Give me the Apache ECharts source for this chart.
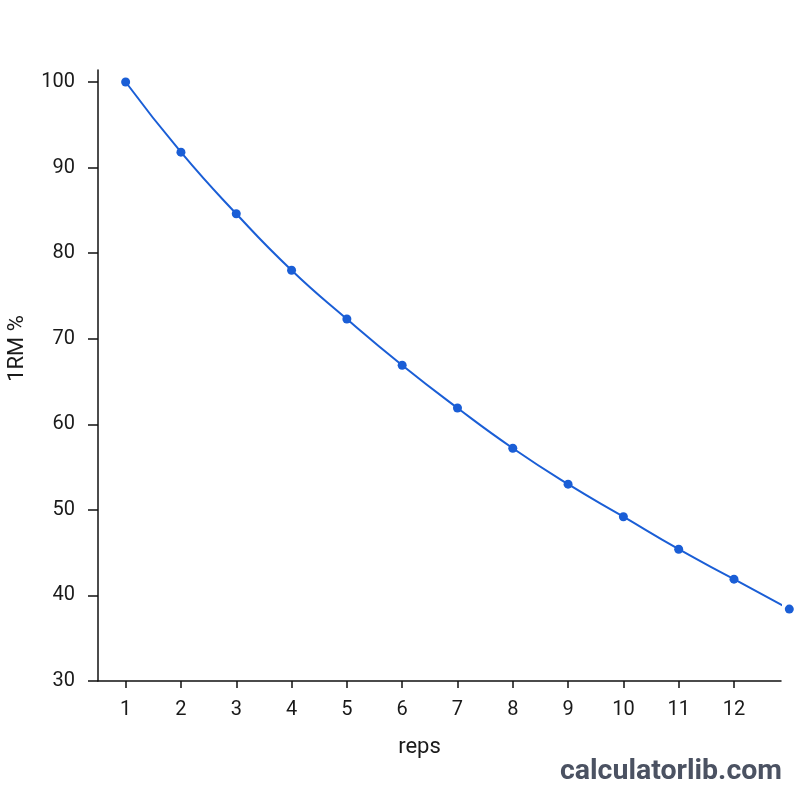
<!DOCTYPE html>
<html>
<head>
<meta charset="utf-8">
<script src="https://cdn.jsdelivr.net/npm/echarts@6/dist/echarts.min.js"></script>
<style>
  html, body { margin: 0; padding: 0; background: #fff; }
  #chart { width: 800px; height: 800px; }
</style>
</head>
<body>
<div id="chart"></div>
<script>
const reps = [1, 2, 3, 4, 5, 6, 7, 8, 9, 10, 11, 12, 13]
const pct = [100, 91.8, 84.6, 78.0, 72.3, 66.9, 61.9, 57.2, 53.0, 49.2, 45.4, 41.9, 38.4]
const xTicks = [1, 2, 3, 4, 5, 6, 7, 8, 9, 10, 11, 12]
const yTicks = [30, 40, 50, 60, 70, 80, 90, 100]

const font = 'Roboto, "Noto Sans", sans-serif'
const chart = echarts.init(document.getElementById('chart'))

chart.setOption({
  animation: false,
  grid: { left: 98, right: 19, top: 70, bottom: 119, outerBoundsMode: 'none', containLabel: false },
  xAxis: {
    type: 'value',
    min: 0.5,
    max: 12.85,
    name: 'reps',
    nameLocation: 'middle',
    nameGap: 55,
    nameTextStyle: { color: '#1a1a1a', fontSize: 22, fontFamily: font, padding: [0, 40, 0, 0] },
    splitLine: { show: false },
    axisLine: { lineStyle: { color: '#111', width: 1.5 } },
    axisTick: { length: 7, customValues: xTicks, lineStyle: { color: '#111', width: 1.5 } },
    axisLabel: { customValues: xTicks, color: '#1a1a1a', fontSize: 20, fontFamily: font, margin: 19 }
  },
  yAxis: {
    type: 'value',
    min: 30,
    max: 101.4,
    name: '1RM %',
    nameLocation: 'middle',
    nameGap: 70,
    nameRotate: 90,
    nameTextStyle: { color: '#1a1a1a', fontSize: 22, fontFamily: font, padding: [0, 0, 0, 54] },
    splitLine: { show: false },
    axisLine: { show: true, lineStyle: { color: '#111', width: 1.5 } },
    axisTick: { show: true, length: 10, customValues: yTicks, lineStyle: { color: '#111', width: 1.5 } },
    axisLabel: { customValues: yTicks, color: '#1a1a1a', fontSize: 20, fontFamily: font, margin: 23 }
  },
  series: [{
    type: 'line',
    data: reps.map((r, i) => [r, pct[i]]),
    smooth: true,
    clip: false,
    symbol: 'circle',
    symbolSize: 9,
    itemStyle: { color: '#1a5ed6' },
    lineStyle: { color: '#1a5ed6', width: 2 }
  }],
  graphic: [{
    type: 'text',
    right: 18,
    bottom: 14,
    style: {
      text: 'calculatorlib.com',
      fill: '#4b5262',
      font: 'bold 28.5px Roboto, "Noto Sans", sans-serif'
    }
  }]
})
</script>
</body>
</html>
